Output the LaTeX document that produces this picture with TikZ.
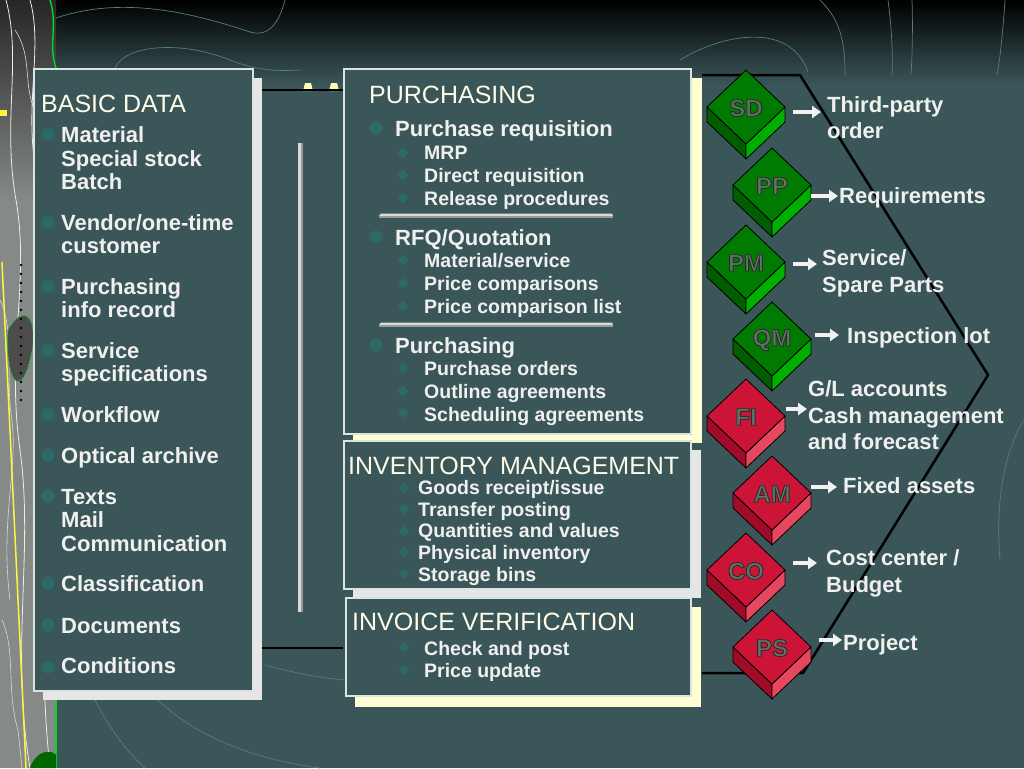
\documentclass[tikz,border=0pt]{standalone}
\usepackage{fontspec}
\setmainfont{Liberation Sans}
\usetikzlibrary{arrows.meta}
\definecolor{bg}{HTML}{3A5659}
\definecolor{boxln}{HTML}{DCE3E3}
\definecolor{txt}{HTML}{F0F0EE}
\definecolor{ttlc}{HTML}{FFFCE8}
\definecolor{bul}{HTML}{2C6A66}
\definecolor{shgray}{HTML}{E6E6E6}
\definecolor{shcream}{HTML}{FFFFD2}
\definecolor{curvec}{HTML}{5A7B7D}
\definecolor{gtop}{HTML}{007A00}
\definecolor{gright}{HTML}{00AE00}
\definecolor{gleft}{HTML}{005E00}
\definecolor{rtop}{HTML}{CC1436}
\definecolor{rright}{HTML}{E5475E}
\definecolor{rleft}{HTML}{A00C28}
\definecolor{dtxt}{HTML}{66716C}
\definecolor{arr}{HTML}{F2F2F2}
\definecolor{stripc}{HTML}{858A86}
\definecolor{barl}{HTML}{DADADA}
\definecolor{bard}{HTML}{9A9A9A}
\newcommand\mybul[2]{\fill[bul] (#1,#2) circle (6.5);}
\newcommand\mysub[2]{\fill[bul] (#1,#2) ++(0,-5.5) -- ++(5.5,5.5) -- ++(-5.5,5.5) -- ++(-5.5,-5.5) -- cycle;}
\newcommand\outlinedtext[1]{\special{pdf:literal direct 2 Tr 0.9 w 0.15 0.18 0.16 RG}#1\special{pdf:literal direct 0 Tr}}
\newcommand\modblock[5]{%
  \begin{scope}[shift={(#2,#3)}]
    \filldraw[fill=#5left, draw=black, line width=0.8pt, line join=round] (-39,0) -- (0,37) -- (0,52) -- (-39,15) -- cycle;
    \filldraw[fill=#5right, draw=black, line width=0.8pt, line join=round] (0,37) -- (39,0) -- (39,15) -- (0,52) -- cycle;
    \filldraw[fill=#5top, draw=black, line width=0.8pt, line join=round] (0,-37) -- (39,0) -- (0,37) -- (-39,0) -- cycle;
    \node[dlbl] (#1) at (0,1) {\outlinedtext{#4}};
  \end{scope}}
\begin{document}
\begin{tikzpicture}[x=1pt,y=-1pt,
  box/.style={draw=boxln, line width=1.6pt, fill=bg, inner sep=0pt, anchor=north west},
  itm/.style={anchor=base west, inner sep=0pt, text=txt, font=\fontsize{22}{26}\selectfont\bfseries},
  subitm/.style={anchor=base west, inner sep=0pt, text=txt, font=\fontsize{19.5}{23}\selectfont\bfseries},
  ttl/.style={anchor=base west, inner sep=0pt, text=ttlc, font=\fontsize{25}{30}\selectfont},
  dlbl/.style={inner sep=0pt, text=dtxt, font=\fontsize{24}{24}\selectfont\bfseries},
  warrow/.style={draw=arr, line width=4.5pt, -{Triangle[length=9pt,width=12pt]}, shorten >=1pt},
  deco/.style={draw=curvec, line width=0.7pt},
  frameln/.style={draw=black, line width=2.5pt, line join=miter}
]
\useasboundingbox (0,0) rectangle (1024,768);
% background
\fill[bg] (0,0) rectangle (1024,768);
\fill[top color=black, bottom color=bg] (0,0) rectangle (1024,85);
% decorative curves
\draw[deco] (56,18) .. controls (110,0) and (170,5) .. (250,32) .. controls (270,38) and (280,20) .. (285,0);
\draw[deco] (115,68) .. controls (125,45) and (180,40) .. (230,60) .. controls (250,68) and (270,72) .. (300,70);
\draw[deco] (680,60) .. controls (720,35) and (790,20) .. (808,72);
\draw[deco] (820,0) .. controls (840,20) and (845,40) .. (845,75);
\draw[deco] (888,0) .. controls (892,30) and (893,60) .. (892,75);
\draw[deco] (912,0) .. controls (913,30) and (912,60) .. (911,75);
\draw[deco] (1005,0) .. controls (1003,30) and (1000,60) .. (997,75);
\draw[deco] (95,700) .. controls (110,730) and (130,755) .. (145,768);
\draw[deco] (158,700) .. controls (200,740) and (260,760) .. (320,768);
\draw[deco] (265,665) .. controls (290,672) and (320,678) .. (345,680);
\draw[deco] (1024,420) .. controls (1005,450) and (995,500) .. (1000,560);
% left textured strip
\fill[stripc] (0,0) rectangle (56,768);
\fill[top color=black!85, bottom color=stripc] (0,0) rectangle (56,200);
\draw[white!85!gray, line width=0.8pt] (6,0) .. controls (22,60) and (2,120) .. (16,200) .. controls (30,280) and (6,350) .. (20,450) .. controls (34,550) and (10,650) .. (30,768);
\draw[white!85!gray, line width=0.8pt] (30,0) .. controls (44,50) and (22,110) .. (38,180) .. controls (52,250) and (30,330) .. (44,420) .. controls (56,520) and (34,620) .. (50,768);
\draw[white!70!gray, line width=0.6pt] (15,30) .. controls (35,60) and (20,90) .. (40,120) .. controls (50,140) and (30,170) .. (45,200);
\draw[white!70!gray, line width=0.6pt] (0,300) .. controls (15,330) and (5,380) .. (12,420) .. controls (18,470) and (0,520) .. (10,600);
\draw[white!70!gray, line width=0.6pt] (40,220) .. controls (28,260) and (50,300) .. (36,340) .. controls (26,380) and (48,420) .. (40,470);
\draw[white!70!gray, line width=0.6pt] (2,620) .. controls (16,650) and (6,690) .. (18,730) -- (22,768);
\draw[green!70!teal, line width=1.4pt] (50,0) .. controls (58,25) and (48,45) .. (56,68);
\fill[black!70] (8,330) .. controls (25,300) and (40,320) .. (30,360) .. controls (20,400) and (5,380) .. cycle;
\draw[green!70!teal, line width=1pt, dotted] (8,330) .. controls (25,300) and (40,320) .. (30,360) .. controls (20,400) and (5,380) .. cycle;
\draw[yellow!75!white, line width=1.5pt] (2,262) -- (26,768);
\foreach \i in {0,...,15} \fill[black] (21,265+\i*9) circle (1.4);
\fill[yellow!75!white] (0,110) rectangle (7,116);
\draw[green!70!teal, line width=1.2pt] (56,700) -- (56,768);
\fill[green!40!black] (30,768) .. controls (35,752) and (50,748) .. (56,755) -- (56,768) -- cycle;
% background frame
\fill[yellow!30!white] (303,91) -- (305,83) -- (311,83) -- (313,91) -- cycle;
\fill[yellow!30!white] (329,91) -- (331,83) -- (337,83) -- (339,91) -- cycle;
\draw[frameln] (262,90) -- (343,90);
\draw[frameln] (262,648) -- (343,648);
\draw[frameln] (702,75) -- (800,75) -- (988,375) -- (803,673) -- (702,673);
% middle bar
\fill[barl] (298,143) rectangle (300.5,612);
\fill[bard] (300.5,143) rectangle (303,612);
% shadows
\fill[shgray] (43,78) rectangle (262,700);
\fill[shcream] (353,78) rectangle (702,443);
\fill[shgray] (353,450) rectangle (701,598);
\fill[shcream] (355,607) rectangle (701,707);
% boxes
\node[box, minimum width=219pt, minimum height=622pt] (basic) at (33,68) {};
\node[box, minimum width=347pt, minimum height=365pt] (purch) at (343,68) {};
\node[box, minimum width=347pt, minimum height=148pt] (inv) at (343,440) {};
\node[box, minimum width=345pt, minimum height=98pt] (invo) at (345,597) {};
% basic data
\node[ttl] (bdt) at (41,112) {BASIC DATA};
\mybul{48}{134}\mybul{48}{222}\mybul{48}{286}\mybul{48}{350}\mybul{48}{414}
\mybul{48}{455}\mybul{48}{496}\mybul{48}{583}\mybul{48}{625}\mybul{48}{667}
\node[itm] (b1) at (61,142) {Material};
\node[itm] (b2) at (61,166) {Special stock};
\node[itm] (b3) at (61,189) {Batch};
\node[itm] (b4) at (61,230) {Vendor/one-time};
\node[itm] (b5) at (61,253) {customer};
\node[itm] (b6) at (61,294) {Purchasing};
\node[itm] (b7) at (61,317) {info record};
\node[itm] (b8) at (61,358) {Service};
\node[itm] (b9) at (61,381) {specifications};
\node[itm] (b10) at (61,422) {Workflow};
\node[itm] (b11) at (61,463) {Optical archive};
\node[itm] (b12) at (61,504) {Texts};
\node[itm] (b13) at (61,527) {Mail};
\node[itm] (b14) at (61,551) {Communication};
\node[itm] (b15) at (61,591) {Classification};
\node[itm] (b16) at (61,633) {Documents};
\node[itm] (b17) at (61,673) {Conditions};
% purchasing
\node[ttl] (pt) at (369,103) {PURCHASING};
\mybul{376}{128}\mybul{376}{237}\mybul{376}{345}
\node[itm] (p1) at (395,136) {Purchase requisition};
\mysub{403}{153}\mysub{403}{175}\mysub{403}{198}
\node[subitm] (p2) at (424,159) {MRP};
\node[subitm] (p3) at (424,182) {Direct requisition};
\node[subitm] (p4) at (424,205) {Release procedures};
\fill[barl] (381,213.5) -- (612,213.5) -- (613,216) -- (379,216) -- cycle;
\fill[bard] (379,216) rectangle (613,218);
\node[itm] (p5) at (395,245) {RFQ/Quotation};
\mysub{403}{260}\mysub{403}{283}\mysub{403}{306}
\node[subitm] (p6) at (424,267) {Material/service};
\node[subitm] (p7) at (424,290) {Price comparisons};
\node[subitm] (p8) at (424,313) {Price comparison list};
\fill[barl] (381,322.5) -- (612,322.5) -- (613,325) -- (379,325) -- cycle;
\fill[bard] (379,325) rectangle (613,327);
\node[itm] (p9) at (395,353) {Purchasing};
\mysub{403}{368}\mysub{403}{391}\mysub{403}{413}
\node[subitm] (p10) at (424,375) {Purchase orders};
\node[subitm] (p11) at (424,398) {Outline agreements};
\node[subitm] (p12) at (424,421) {Scheduling agreements};
% inventory
\node[ttl] (it) at (348,474) {INVENTORY MANAGEMENT};
\mysub{404}{488}\mysub{404}{509}\mysub{404}{531}\mysub{404}{552}\mysub{404}{574}
\node[subitm] (i1) at (418,494) {Goods receipt/issue};
\node[subitm] (i2) at (418,516) {Transfer posting};
\node[subitm] (i3) at (418,537) {Quantities and values};
\node[subitm] (i4) at (418,559) {Physical inventory};
\node[subitm] (i5) at (418,581) {Storage bins};
% invoice
\node[ttl] (vt) at (352,630) {INVOICE VERIFICATION};
\mysub{404}{647}\mysub{404}{670}
\node[subitm] (v1) at (424,655) {Check and post};
\node[subitm] (v2) at (424,677) {Price update};
% module blocks
\modblock{sd}{746}{107}{SD}{g}
\modblock{pp}{772}{185}{PP}{g}
\modblock{pm}{746}{262}{PM}{g}
\modblock{qm}{772}{339}{QM}{g}
\modblock{fi}{746}{416}{FI}{r}
\modblock{am}{772}{493}{AM}{r}
\modblock{co}{746}{570}{CO}{r}
\modblock{ps}{772}{647}{PS}{r}
% right labels
\node[itm] (sdl) at (827,112) {Third-party};
\node[itm] (sdl2) at (827,138) {order};
\node[itm] (ppl) at (839,203) {Requirements};
\node[itm] (pml) at (822,265) {Service/};
\node[itm] (pml2) at (822,292) {Spare Parts};
\node[itm] (qml) at (847,343) {Inspection lot};
\node[itm] (fil0) at (808,396) {G/L accounts};
\node[itm] (fil) at (808,423) {Cash management};
\node[itm] (fil2) at (808,449) {and forecast};
\node[itm] (aml) at (843,493) {Fixed assets};
\node[itm] (col) at (826,565) {Cost center /};
\node[itm] (col2) at (826,592) {Budget};
\node[itm] (psl) at (843,650) {Project};
% arrows
\coordinate (sda) at (793,112);
\coordinate (ppa) at (811,196);
\coordinate (pma) at (793,264);
\coordinate (qma) at (815,335);
\coordinate (fia) at (786,409);
\coordinate (ama) at (811,487);
\coordinate (coa) at (793,563);
\coordinate (psa) at (819,640);
\draw[warrow] (sda) -- ([xshift=-5pt]sda -| sdl.west);
\draw[warrow] (ppa) -- (ppa -| ppl.west);
\draw[warrow] (pma) -- ([xshift=-4pt]pma -| pml.west);
\draw[warrow] (qma) -- ([xshift=-7pt]qma -| qml.west);
\draw[warrow] (fia) -- (fia -| fil.west);
\draw[warrow] (ama) -- ([xshift=-5pt]ama -| aml.west);
\draw[warrow] (coa) -- ([xshift=-8pt]coa -| col.west);
\draw[warrow] (psa) -- (psa -| psl.west);
\end{tikzpicture}
\end{document}
